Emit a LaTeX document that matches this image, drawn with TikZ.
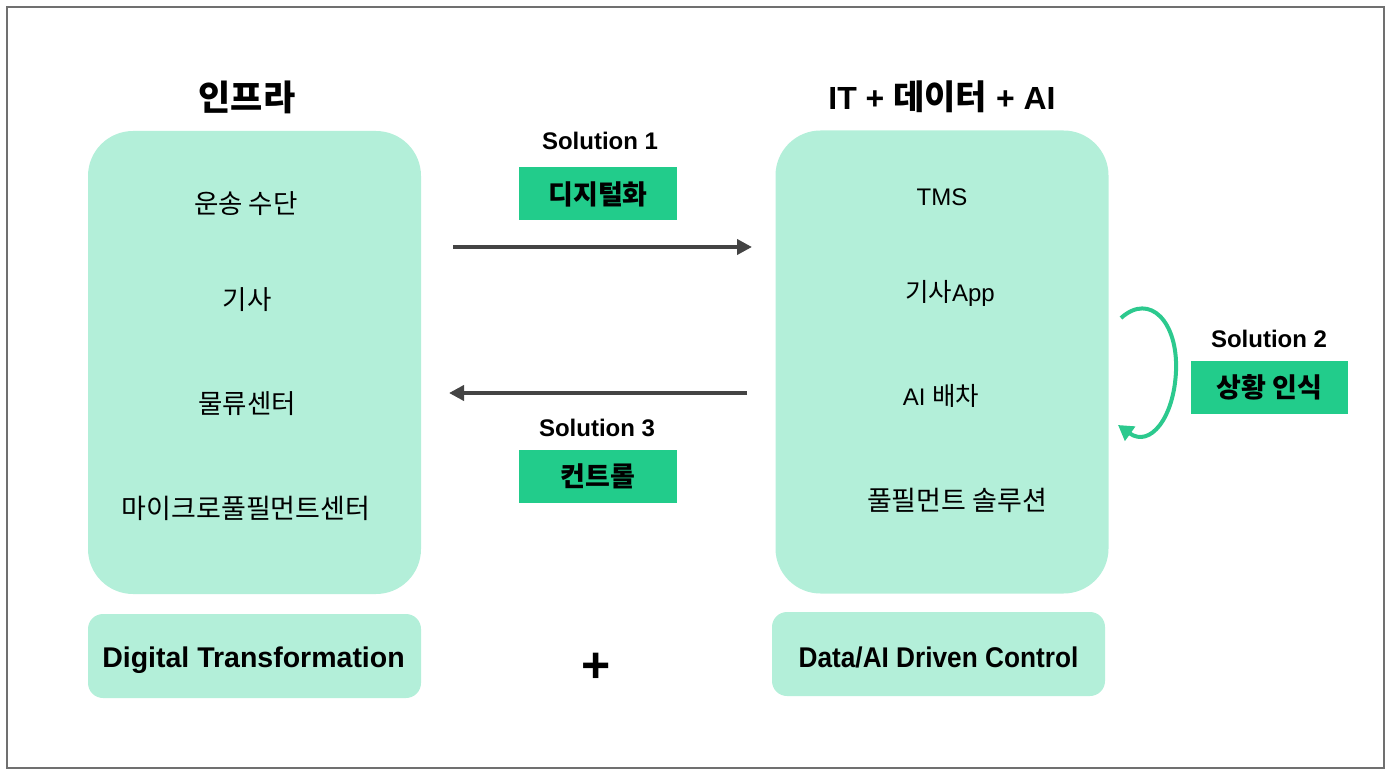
\documentclass[tikz,border=0pt]{standalone}
\usepackage{fontspec}
\setmainfont{Liberation Sans}
\newfontfamily\kr{Noto Sans CJK KR}
\newfontfamily\narrowsans[FakeStretch=0.92]{Liberation Sans}
\usetikzlibrary{arrows.meta}
\definecolor{lightg}{HTML}{B3EFD9}
\definecolor{darkg}{HTML}{22CC8B}
\definecolor{arrg}{HTML}{2CC98E}
\definecolor{arrk}{HTML}{444444}
\definecolor{framec}{HTML}{707070}
\begin{document}
\begin{tikzpicture}[x=1pt,y=-1pt,
  bigbox/.style={fill=lightg, rounded corners=45pt, minimum width=333pt, minimum height=463pt, inner sep=0pt},
  lowbox/.style={fill=lightg, rounded corners=15pt, minimum width=333pt, minimum height=84pt, inner sep=0pt},
  lowtext/.style={font=\fontsize{28.5}{32}\selectfont\bfseries, inner sep=0pt},
  solbox/.style={fill=darkg, minimum width=158pt, minimum height=53pt, inner sep=0pt, font=\kr\fontsize{27}{30}\selectfont\bfseries},
  soltitle/.style={font=\fontsize{24}{28}\selectfont\bfseries, inner sep=0pt},
  title/.style={font=\fontsize{32}{36}\selectfont\bfseries, inner sep=0pt},
  item/.style={font=\kr\fontsize{26.5}{30}\selectfont, inner sep=0pt},
  latinitem/.style={font=\fontsize{24}{28}\selectfont, inner sep=0pt},
  darr/.style={draw=arrk, line width=4pt, -{Triangle[length=15pt,width=15pt]}},
  garr/.style={draw=arrg, line width=4pt, -{Triangle[length=15pt,width=17pt]}}
]
\useasboundingbox (0,0) rectangle (1391,775);
\draw[framec, line width=2pt] (7,7) rectangle (1384,768);

% big boxes
\node[bigbox] (infra) at (254.5,362.5) {};
\node[bigbox] (itbox) at (942,362) {};

% titles
\node[title, font=\kr\fontsize{35}{40}\selectfont\bfseries] (tinfra) at (247,97) {인프라};
\node[title] (tit) at (942,97) {IT + {\kr\fontsize{34}{38}\selectfont 데이터} + AI};

% left items
\node[item] (l1) at (246,204) {운송 수단};
\node[item] (l2) at (247,300) {기사};
\node[item] (l3) at (247,404) {물류센터};
\node[item, font=\kr\fontsize{27}{30}\selectfont] (l4) at (246,508) {마이크로풀필먼트센터};

% right items
\node[latinitem] (r1) at (942,197) {TMS};
\node[latinitem] (r2) at (950,293) {{\kr\fontsize{25.5}{28}\selectfont 기사}App};
\node[latinitem] (r3) at (941,396) {AI {\kr\fontsize{25.5}{28}\selectfont 배차}};
\node[item, font=\kr\fontsize{27}{30}\selectfont] (r4) at (957,500) {풀필먼트 솔루션};

% bottom boxes
\node[lowbox] (dt) at (254.5,656) {};
\node[lowtext] (dtt) at (253.5,660) {Digital Transformation};
\node[lowbox] (dc) at (938.5,654) {};
\node[lowtext, font=\narrowsans\fontsize{28.5}{32}\selectfont\bfseries] (dct) at (938.5,657) {Data/AI Driven Control};
\node[font=\fontsize{50}{56}\selectfont\bfseries, inner sep=0pt] (plus) at (596,668) {+};

% solution 1
\node[soltitle] (s1t) at (600,141) {Solution 1};
\node[solbox] (s1) at (598,194) {디지털화};
\coordinate (a1s) at (453,247);
\coordinate (a1e) at (752,247);
\draw[darr] (a1s) -- (a1e);

% solution 3
\node[soltitle] (s3t) at (597,428) {Solution 3};
\node[solbox] (s3) at (598,476.5) {컨트롤};
\coordinate (a3s) at (747,393);
\coordinate (a3e) at (449,393);
\draw[darr] (a3s) -- (a3e);

% solution 2
\node[soltitle] (s2t) at (1269,339) {Solution 2};
\node[solbox, minimum width=157pt] (s2) at (1269.5,387.5) {상황 인식};
\coordinate (c1) at (1121,318);
\coordinate (c2) at (1176,371);
\coordinate (c3) at (1118,425);
\draw[garr] (c1) .. controls (1150,292) and (1178,322) .. (c2) .. controls (1174,418) and (1150,448) .. (c3);
\end{tikzpicture}
\end{document}
